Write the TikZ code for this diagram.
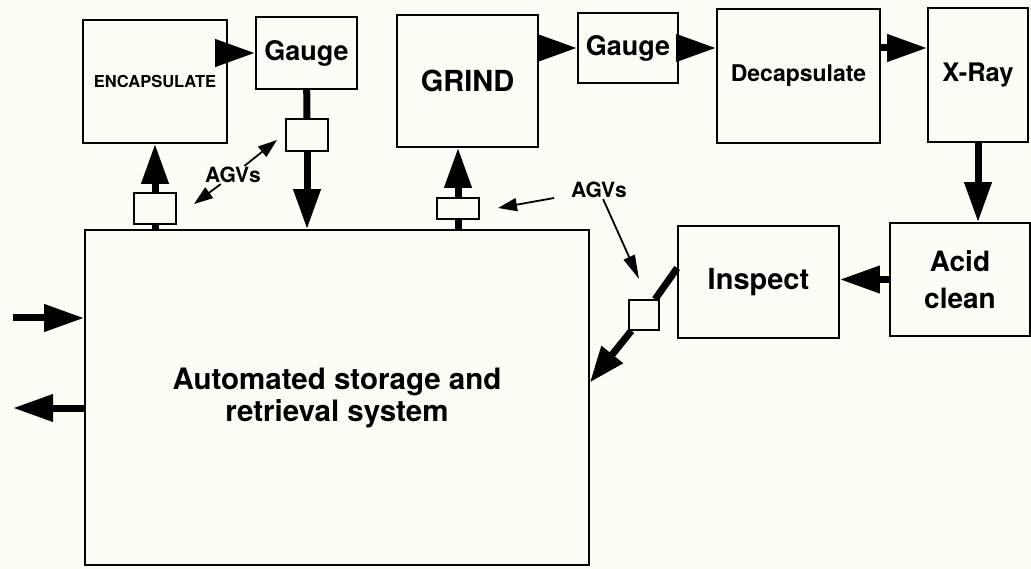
\documentclass[tikz,border=0pt]{standalone}
\usepackage{fontspec}
\setmainfont{TeX Gyre Heros}
\usetikzlibrary{arrows.meta}
\definecolor{paper}{RGB}{253,253,246}

\begin{document}
\begin{tikzpicture}[
    x=1pt, y=-1pt,
    box/.style = {rectangle, draw=black, fill=paper, line width=1.6pt, inner sep=0pt, align=center},
    cart/.style = {rectangle, draw=black, fill=paper, line width=1.4pt, inner sep=0pt},
    tag/.style = {inner sep=1pt, font=\bfseries\fontsize{21}{23}\selectfont},
    shaft/.style = {line width=7pt},
    flow/.style = {line width=7pt, -{Triangle[length=40pt, width=26pt]}},
    agv/.style = {line width=1.8pt, -{Triangle[length=19pt, width=13pt]}}
]

\useasboundingbox (0,0) rectangle (1031,569);
\fill[paper] (0,0) rectangle (1031,569);

% Storage system
\node (asrs) [box, minimum width=504, minimum height=335, font=\bfseries\fontsize{29.5}{32}\selectfont] at (337,397.5) {Automated storage and\\retrieval system};

% Top row of stations
\node (encap) [box, minimum width=144, minimum height=123, font=\bfseries\fontsize{16.5}{18}\selectfont] at (155,81.5) {ENCAPSULATE};
\node (gauge_a) [box, minimum width=101, minimum height=72, font=\bfseries\fontsize{27}{30}\selectfont] at (306.5,53) {Gauge};
\node (grind) [box, minimum width=141, minimum height=132, font=\bfseries\fontsize{29}{32}\selectfont] at (467.5,81) {GRIND};
\node (gauge_b) [box, minimum width=100, minimum height=70, font=\bfseries\fontsize{27}{30}\selectfont] at (628,48) {Gauge};
\node (decap) [box, minimum width=163, minimum height=134, font=\bfseries\fontsize{23}{26}\selectfont] at (798.5,76) {Decapsulate};
\node (xray) [box, minimum width=100, minimum height=134, font=\bfseries\fontsize{25.5}{28}\selectfont] at (978,75) {X-Ray};

% Return row
\node (acid) [box, minimum width=140, minimum height=113, font=\bfseries\fontsize{28}{37}\selectfont] at (960,279.5) {Acid\\clean};
\node (inspect) [box, minimum width=161, minimum height=112, font=\bfseries\fontsize{29}{32}\selectfont] at (758.5,282) {Inspect};

% AGV carts
\node (cart_encap) [cart, minimum width=42, minimum height=31] at (155,208.5) {};
\node (cart_gauge) [cart, minimum width=42, minimum height=32] at (307,135) {};
\node (cart_grind) [cart, minimum width=42, minimum height=21] at (458,208.5) {};
\node (cart_insp) [cart, minimum width=30, minimum height=30] at (644,315) {};

\node (agvs_a) [tag] at (233,175) {AGVs};
\node (agvs_b) [tag] at (599,190) {AGVs};

\coordinate (tip_a) at (277,140);
\coordinate (tip_b) at (194,204);
\coordinate (tip_c) at (498,208);
\coordinate (tip_d) at (639,279);
\coordinate (feed_in) at (13,318);
\coordinate (feed_out) at (13,408);

% Flow between stations
\draw [flow] (encap.east |- gauge_a) -- (gauge_a.west);
\draw [shaft] (gauge_a) -- (cart_gauge);
\draw [flow] (cart_gauge) -- (cart_gauge |- asrs.north);

\draw [shaft] (cart_encap |- asrs.north) -- (cart_encap);
\draw [flow] (cart_encap) -- (cart_encap |- encap.south);

\draw [shaft] (cart_grind |- asrs.north) -- (cart_grind);
\draw [flow] (cart_grind) -- (cart_grind |- grind.south);

\draw [flow] (grind.east |- gauge_b) -- (gauge_b.west);
\draw [flow] (gauge_b.east) -- (gauge_b.east -| decap.west);
\draw [flow] (gauge_b.east -| decap.east) -- (gauge_b.east -| xray.west);
\draw [flow] (xray.south) -- (xray.south |- acid.north);
\draw [flow] (acid.west) -- (acid.west -| inspect.east);

\draw [shaft] ([yshift=14pt]inspect.west) -- (cart_insp);
\draw [flow, -{Triangle[length=36pt, width=26pt]}] (cart_insp) -- ([yshift=15pt]asrs.east);

% In and out of storage
\draw [flow] (feed_in) -- (feed_in -| asrs.west);
\draw [flow] (feed_out -| asrs.west) -- (feed_out);

% AGV pointers
\draw [agv] (agvs_a) -- (tip_a);
\draw [agv] (agvs_a) -- (tip_b);
\draw [agv, shorten <=16pt] (agvs_b) -- (tip_c);
\draw [agv, -{Triangle[length=24pt, width=12pt]}] (agvs_b) -- (tip_d);

\end{tikzpicture}
\end{document}
